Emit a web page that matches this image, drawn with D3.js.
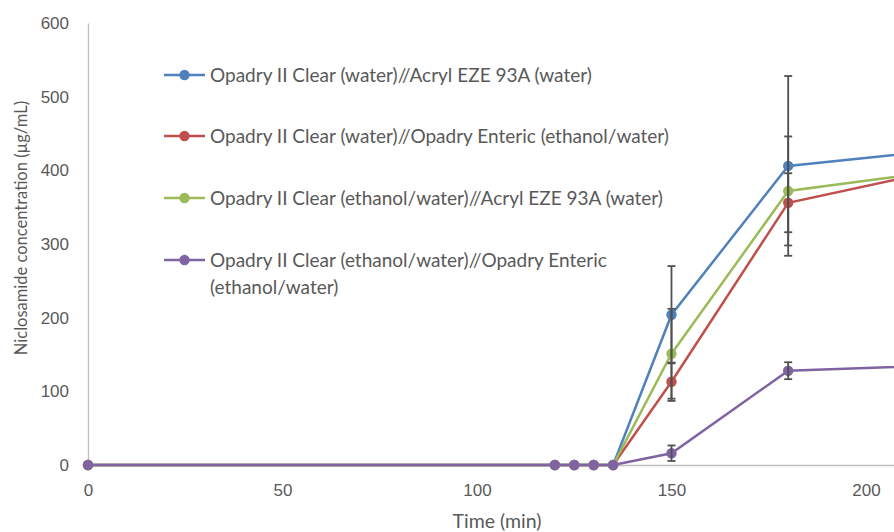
<!DOCTYPE html>
<html>
<head>
<meta charset="utf-8">
<script src="https://cdn.jsdelivr.net/npm/d3@7"></script>
<style>
  body { margin: 0; background: #fff; }
  svg { display: block; font-family: Lato, "Open Sans", sans-serif; }
  .tick text { fill: #595959; font-size: 17px; }
</style>
</head>
<body>
<div id="chart"></div>
<script>
// time points (min)
const times = [0, 120, 125, 130, 135, 150, 180, 240];

const seriesNames = [
  "Opadry II Clear (water)//Acryl EZE 93A (water)",
  "Opadry II Clear (water)//Opadry Enteric (ethanol/water)",
  "Opadry II Clear (ethanol/water)//Acryl EZE 93A (water)",
  "Opadry II Clear (ethanol/water)//Opadry Enteric (ethanol/water)"
];
const seriesColors = ["#4F81BD", "#C0504D", "#9BBB59", "#8064A2"];

// mean concentration (µg/mL)
const blueValues   = [0, 0, 0, 0, 0, 204, 406, 439];
const redValues    = [0, 0, 0, 0, 0, 113, 356, 424];
const greenValues  = [0, 0, 0, 0, 0, 151, 372, 414];
const purpleValues = [0, 0, 0, 0, 0, 16, 128, 139];

// standard deviations
const blueErr   = [0, 0, 0, 0, 0, 66, 122, 0];
const redErr    = [0, 0, 0, 0, 0, 26, 40, 0];
const greenErr  = [0, 0, 0, 0, 0, 61, 74, 0];
const purpleErr = [0, 0, 0, 0, 0, 10.5, 11.5, 0];

const xTicks = [0, 50, 100, 150, 200];
const yTicks = [0, 100, 200, 300, 400, 500, 600];

const values = [blueValues, redValues, greenValues, purpleValues];
const errors = [blueErr, redErr, greenErr, purpleErr];

const width = 894, height = 532;
const svg = d3.select("#chart").append("svg")
  .attr("width", width).attr("height", height);

const x = d3.scaleLinear().domain([0, 207.2]).range([88, 894]);
const y = d3.scaleLinear().domain([0, 600]).range([465, 23]);

svg.append("defs").append("clipPath").attr("id", "plot")
  .append("rect").attr("x", 0).attr("y", 0).attr("width", 894).attr("height", height);

// axes
svg.append("g")
  .attr("transform", "translate(88,0)")
  .call(d3.axisLeft(y).tickValues(yTicks).tickSize(0).tickPadding(19))
  .call(g => g.select(".domain").attr("stroke", "#BFBFBF").attr("stroke-width", 1.3));

svg.append("g")
  .attr("transform", "translate(0,465)")
  .call(d3.axisBottom(x).tickValues(xTicks).tickSize(0).tickPadding(19))
  .call(g => g.select(".domain").attr("stroke", "#BFBFBF").attr("stroke-width", 1.3));

// axis titles
svg.append("text")
  .attr("x", 497).attr("y", 528)
  .attr("text-anchor", "middle")
  .attr("fill", "#595959").attr("font-size", 19.5)
  .text("Time (min)");

svg.append("text")
  .attr("transform", "translate(27,228) rotate(-90)")
  .attr("text-anchor", "middle")
  .attr("fill", "#595959").attr("font-size", 16.5)
  .text("Niclosamide concentration (µg/mL)");

const line = d3.line()
  .x((d, i) => x(times[i]))
  .y(d => y(d));

const plot = svg.append("g").attr("clip-path", "url(#plot)");

// lines and markers, last series drawn on top
values.forEach((vals, s) => {
  plot.append("path")
    .datum(vals)
    .attr("fill", "none")
    .attr("stroke", seriesColors[s])
    .attr("stroke-width", 2.5)
    .attr("d", line);
});

values.forEach((vals, s) => {
  plot.append("g").selectAll("circle")
    .data(vals)
    .join("circle")
    .attr("cx", (d, i) => x(times[i]))
    .attr("cy", d => y(d))
    .attr("r", 5.2)
    .attr("fill", seriesColors[s]);
});

// error bars
values.forEach((vals, s) => {
  const g = plot.append("g").attr("stroke", "#505050").attr("stroke-width", 1.8);
  vals.forEach((v, i) => {
    const e = errors[s][i];
    if (!e) return;
    const cx = x(times[i]);
    g.append("line").attr("x1", cx).attr("x2", cx).attr("y1", y(v - e)).attr("y2", y(v + e));
    g.append("line").attr("x1", cx - 4).attr("x2", cx + 4).attr("y1", y(v - e)).attr("y2", y(v - e));
    g.append("line").attr("x1", cx - 4).attr("x2", cx + 4).attr("y1", y(v + e)).attr("y2", y(v + e));
  });
});

// legend
const legendY = [75, 136, 198, 260];
const legend = svg.append("g");
seriesNames.forEach((name, s) => {
  const g = legend.append("g").attr("transform", `translate(0,${legendY[s]})`);
  g.append("line").attr("x1", 164).attr("x2", 205).attr("stroke", seriesColors[s]).attr("stroke-width", 2.5);
  g.append("circle").attr("cx", 184.5).attr("r", 5.2).attr("fill", seriesColors[s]);
  const t = g.append("text").attr("x", 210).attr("y", 6.5)
    .attr("fill", "#595959").attr("font-size", 19);
  if (s === 3) {
    t.append("tspan").attr("x", 210).text("Opadry II Clear (ethanol/water)//Opadry Enteric");
    t.append("tspan").attr("x", 210).attr("dy", 27).text("(ethanol/water)");
  } else {
    t.text(name);
  }
});
</script>
</body>
</html>
